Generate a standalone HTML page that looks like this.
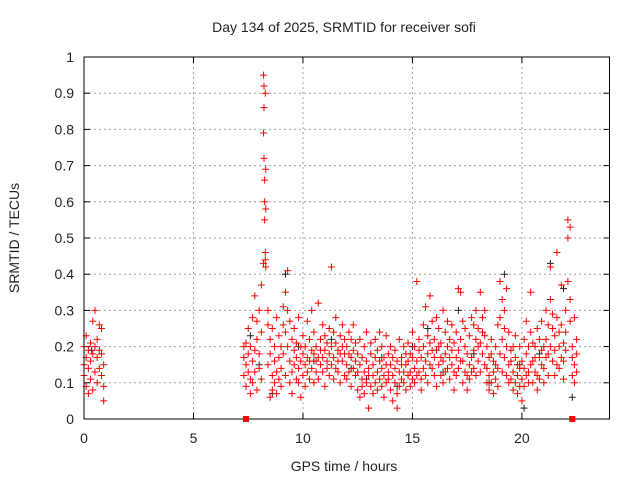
<!DOCTYPE html>
<html><head><meta charset="utf-8"><style>
body{margin:0;background:#fff}
svg text{font-family:"Liberation Sans",sans-serif;font-size:14px;fill:#222}
</style></head><body>
<svg id="chart" width="640" height="480" xmlns="http://www.w3.org/2000/svg">
<text x="344" y="32" text-anchor="middle">Day 134 of 2025, SRMTID for receiver sofi</text>
<text x="344" y="471" text-anchor="middle">GPS time / hours</text>
<text transform="translate(19,238) rotate(-90)" text-anchor="middle">SRMTID / TECUs</text>
<g id="grid"></g>
<g id="ticks"></g>
<g id="black"></g>
<g id="red"></g>
<rect x="84" y="57" width="525.5" height="362" fill="none" stroke="#000" stroke-width="1"/>
<g id="marks"></g>
</svg>
<script>
const xTicks=[0,5,10,15,20];
const yTicks=[0,0.1,0.2,0.3,0.4,0.5,0.6,0.7,0.8,0.9,1];
const yTickLabels=["0","0.1","0.2","0.3","0.4","0.5","0.6","0.7","0.8","0.9","1"];
const redTimes=[0,0.1,0.2,0.3,0.4,0.5,0.6,0.7,0.8,0.9,
7.3,7.4,7.5,7.6,7.7,7.8,7.9,8.0,8.1,8.2,8.22,8.25,8.28,8.3,8.4,8.5,8.6,8.7,8.8,8.9,
9.0,9.1,9.2,9.3,9.4,9.5,9.6,9.7,9.8,9.9,10.0,10.1,10.2,10.3,10.4,10.5,10.6,10.7,10.8,10.9,
11.0,11.1,11.2,11.3,11.4,11.5,11.6,11.7,11.8,11.9,12.0,12.1,12.2,12.3,12.4,12.5,12.6,12.7,12.8,12.9,
13.0,13.1,13.2,13.3,13.4,13.5,13.6,13.7,13.8,13.9,14.0,14.1,14.2,14.3,14.4,14.5,14.6,14.7,14.8,14.9,
15.0,15.1,15.2,15.3,15.4,15.5,15.6,15.7,15.8,15.9,16.0,16.1,16.2,16.3,16.4,16.5,16.6,16.7,16.8,16.9,
17.0,17.1,17.2,17.3,17.4,17.5,17.6,17.7,17.8,17.9,18.0,18.1,18.2,18.3,18.4,18.5,18.6,18.7,18.8,18.9,
19.0,19.1,19.2,19.3,19.4,19.5,19.6,19.7,19.8,19.9,20.0,20.1,20.2,20.3,20.4,20.5,20.6,20.7,20.8,20.9,
21.0,21.1,21.2,21.3,21.4,21.5,21.6,21.7,21.8,21.9,22.0,22.1,22.2,22.3,22.4,22.5];
const redValues=[.15,.12,.2,.17,.09,.23,.14,.07,.19,.16,.11,.21,.27,.18,.08,.13,.2,.3,.17,.1,.22,.26,.14,.19,.25,.12,.18,.05,.15,.09,
.2,.12,.17,.15,.09,.21,.25,.13,.18,.11,.2,.07,.28,.16,.1,.34,.19,.13,.22,.08,.27,.3,.14,.18,.24,.11,.37,.43,.95,.79,
.92,.86,.72,.66,.6,.55,.46,.44,.9,.58,.69,.42,.26,.15,.3,.18,.06,.22,.12,.25,.08,.2,.1,.16,.28,.13,.07,.17,.23,.11,
.14,.2,.09,.31,.18,.26,.24,.35,.12,.41,.3,.2,.16,.27,.1,.22,.13,.07,.19,.25,.15,.11,.21,.17,.14,.28,.1,.2,.06,.16,
.12,.18,.23,.15,.09,.2,.17,.27,.13,.22,.11,.16,.14,.19,.3,.18,.1,.24,.2,.13,.16,.32,.17,.11,.15,.22,.19,.13,.26,.17,
.19,.09,.23,.16,.21,.14,.25,.12,.18,.42,.2,.15,.17,.24,.11,.21,.14,.28,.13,.19,.16,.23,.1,.18,.16,.26,.2,.12,.18,.22,
.2,.15,.11,.24,.13,.18,.17,.22,.09,.14,.19,.26,.21,.12,.16,.08,.18,.13,.15,.06,.22,.11,.17,.09,.2,.13,.07,.1,.16,.24,
.14,.03,.12,.18,.09,.21,.12,.15,.07,.22,.1,.17,.13,.19,.08,.16,.11,.24,.09,.2,.14,.17,.12,.06,.23,.15,.1,.11,.18,.13,
.15,.08,.2,.12,.17,.05,.19,.1,.14,.07,.16,.03,.13,.22,.09,.17,.11,.15,.1,.2,.13,.15,.08,.18,.21,.12,.16,.13,.18,.09,
.17,.11,.24,.14,.2,.1,.38,.16,.12,.19,.13,.22,.11,.17,.08,.2,.26,.14,.16,.31,.12,.23,.18,.1,.34,.21,.15,.27,.14,.19,
.12,.22,.17,.19,.28,.09,.15,.2,.25,.21,.12,.17,.3,.16,.1,.18,.24,.13,.14,.2,.27,.22,.11,.17,.26,.15,.19,.13,.21,.08,
.24,.17,.12,.36,.19,.14,.35,.22,.16,.16,.27,.1,.2,.13,.25,.12,.18,.08,.15,.23,.11,.28,.17,.13,.19,.26,.14,.22,.12,.3,
.25,.16,.2,.35,.21,.13,.28,.18,.24,.23,.3,.15,.14,.2,.1,.12,.17,.08,.18,.1,.22,.13,.07,.16,.2,.11,.15,.26,.14,.09,
.38,.28,.18,.33,.22,.13,.3,.17,.25,.2,.12,.36,.15,.24,.1,.19,.11,.16,.13,.2,.08,.17,.1,.23,.12,.15,.07,.2,.09,.14,
.11,.16,.05,.14,.22,.09,.18,.12,.27,.13,.2,.1,.24,.15,.35,.16,.1,.21,.2,.13,.17,.12,.25,.08,.17,.11,.22,.27,.15,.19,
.14,.2,.1,.22,.17,.3,.18,.26,.12,.42,.33,.2,.25,.16,.29,.19,.12,.23,.46,.28,.15,.2,.14,.24,.26,.37,.17,.21,.11,.16,
.3,.19,.24,.55,.5,.38,.53,.33,.27,.2,.12,.17,.28,.15,.1,.22,.18,.13];
const blackTimes=[0.35,7.6,8.0,8.6,9.2,9.8,10.5,11.3,12.2,12.9,13.6,14.3,15.0,15.7,16.4,17.1,17.8,18.5,19.2,19.9,20.1,20.8,21.3,21.9,22.3];
const blackValues=[.19,.23,.15,.07,.4,.2,.16,.22,.14,.11,.17,.09,.2,.25,.13,.3,.18,.1,.4,.15,.03,.18,.43,.36,.06];
const markerTimes=[7.4,22.3];
const X0=84,X1=609.5,Y0=419,Y1=57,XMAX=24,YMAX=1;
const xs=t=>X0+(X1-X0)*t/XMAX, ys=v=>Y0-(Y0-Y1)*v/YMAX;
const NS="http://www.w3.org/2000/svg";
function mk(tag,attrs,parent){const e=document.createElementNS(NS,tag);for(const k in attrs)e.setAttribute(k,attrs[k]);parent.appendChild(e);return e;}
const grid=document.getElementById('grid'),ticks=document.getElementById('ticks');
yTicks.forEach((v,i)=>{const y=ys(v);
 if(v>0&&v<1){const g=mk('line',{x1:X0,x2:X1,y1:y,y2:y,stroke:'#a0a0a0','stroke-dasharray':'2,3'},grid);
 
 }
 mk('line',{x1:X0,x2:X0+6,y1:y,y2:y,stroke:'#000'},ticks);mk('line',{x1:X1,x2:X1-6,y1:y,y2:y,stroke:'#000'},ticks);
 const t=mk('text',{x:X0-10,y:y+5,'text-anchor':'end'},ticks);t.textContent=yTickLabels[i];
 
 });
xTicks.forEach(v=>{const x=xs(v);
 if(v>0){const g=mk('line',{x1:x,x2:x,y1:Y0,y2:Y1,stroke:'#a0a0a0','stroke-dasharray':'2,3'},grid);
 
 }
 mk('line',{x1:x,x2:x,y1:Y0,y2:Y0-6,stroke:'#000'},ticks);mk('line',{x1:x,x2:x,y1:Y1,y2:Y1+6,stroke:'#000'},ticks);
 const t=mk('text',{x:x,y:Y0+24,'text-anchor':'middle'},ticks);t.textContent=String(v);
 
 });
function plus(g,x,y,c){const p=mk('path',{d:`M${x-3.5},${y}h7M${x},${y-3.5}v7`,stroke:c,'stroke-width':1},g);
 
 }
const bg=document.getElementById('black');
blackTimes.forEach((t,i)=>plus(bg,xs(t),ys(blackValues[i]),'#222'));
const rg=document.getElementById('red');
redValues.forEach((v,i)=>plus(rg,xs(redTimes[Math.floor(i/3)]),ys(v),'#ff0000'));
const mg=document.getElementById('marks');
markerTimes.forEach(t=>{const r=mk('rect',{x:xs(t)-3,y:Y0-3,width:6,height:6,fill:'#ff0000'},mg);
 
 });
</script>
</body></html>
